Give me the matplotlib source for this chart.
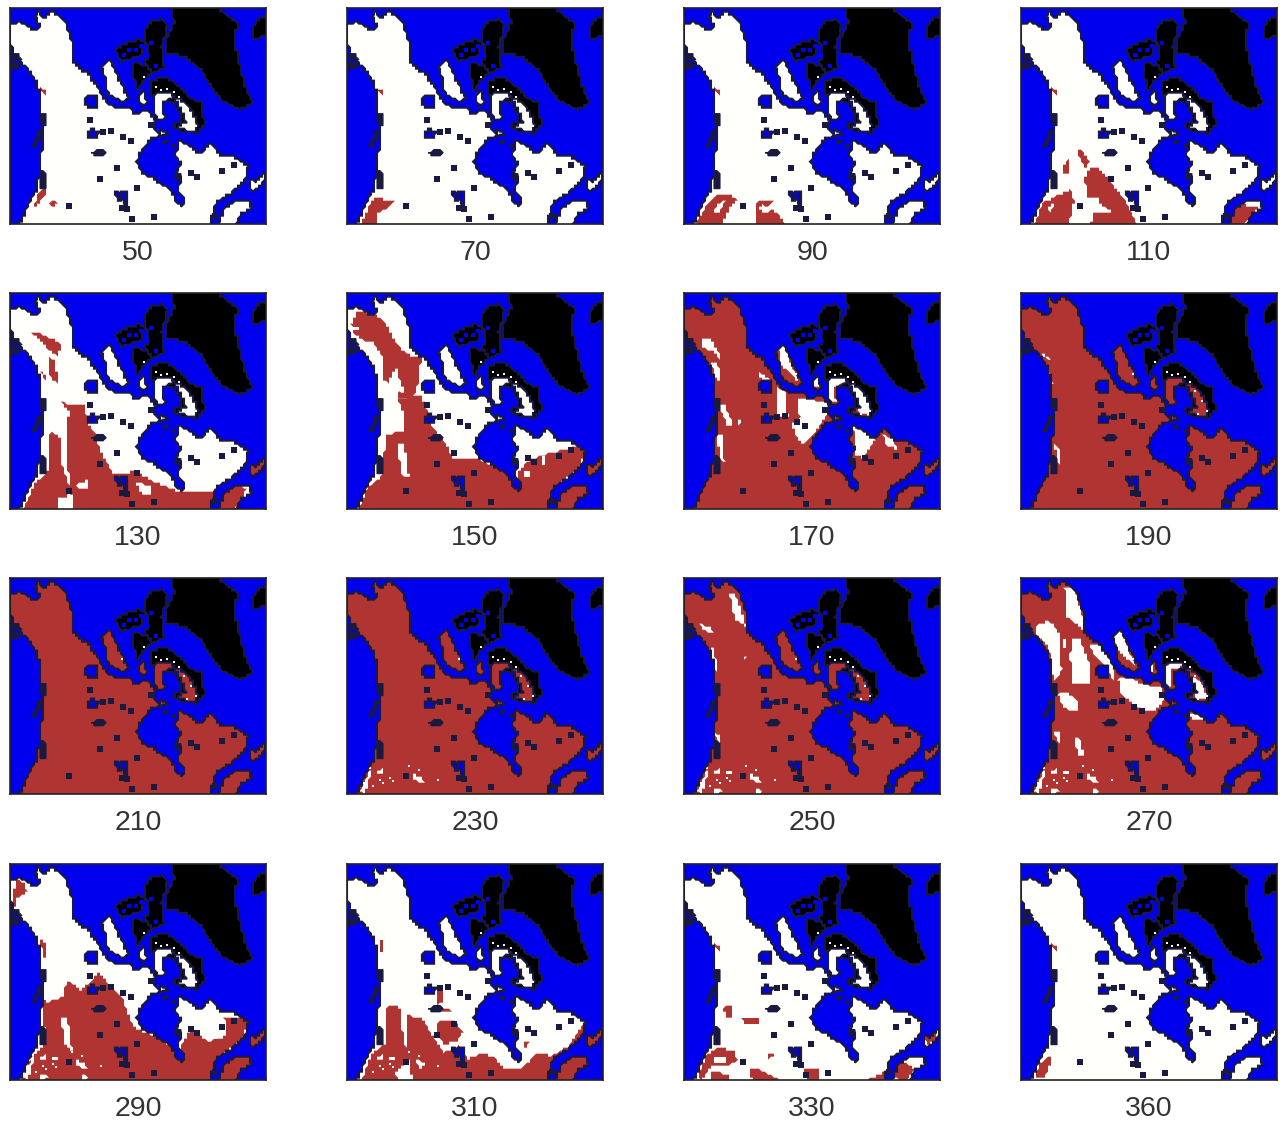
import matplotlib
matplotlib.use("Agg")
import matplotlib.pyplot as plt
import numpy as np
from matplotlib.patches import Polygon, PathPatch
from matplotlib.path import Path

plt.rcParams['font.family'] = ['Liberation Sans', 'DejaVu Sans']

DAYS = [50, 70, 90, 110, 130, 150, 170, 190, 210, 230, 250, 270, 290, 310, 330, 360]

MAINLAND = [(22,70),(35,68),(45,65),(60,75),(75,80),(88,92),(102,90),(108,78),(98,65),(92,50),(105,35),(115,50),(122,58),(140,35),(165,48),(188,68),(195,100),(205,130),(212,190),(230,210),(250,218),(265,240),(282,265),(305,305),(330,320),(350,325),(380,325),(395,345),(415,330),(432,330),(455,362),(450,385),(470,405),(440,420),(412,450),(398,490),(420,525),(445,530),(472,552),(505,575),(515,605),(535,618),(542,598),(522,572),(530,535),(515,515),(530,495),(515,470),(525,420),(560,440),(590,462),(620,432),(650,465),(690,470),(735,500),(722,545),(680,582),(640,605),(625,650),(620,680),(45,680),(75,610),(100,562),(105,525),(112,470),(115,380),(110,310),(100,250),(80,220),(50,185),(25,160),(20,120)]
NEWFOUNDLAND = [(735,540),(752,545),(780,520),(778,555),(745,577)]
MARITIMES = [(660,628),(695,602),(735,600),(745,625),(715,642),(692,680),(640,680)]
BANKS = [(292,205),(315,178),(330,205),(350,250),(375,295),(355,305),(312,285),(305,240)]
MELVILLE = [(405,290),(418,272),(430,310),(412,322)]
BAFFIN_W = [(445,285),(480,278),(505,282),(510,292),(478,308),(482,355),(460,358),(450,330)]
BAFFIN_E = [(510,295),(540,305),(560,325),(582,375),(572,397),(520,385),(545,365),(530,330)]
SOUTHAMPTON = [(465,385),(495,405),(465,412)]
ISLE_N = [(420,110),(432,70),(470,58),(492,80),(472,140),(482,200),(445,222),(425,190),(435,150)]
ISLE_W = [(335,150),(370,130),(405,118),(420,130),(415,165),(385,175),(350,185)]
ISLE_S = [(385,190),(425,195),(440,222),(420,240),(402,272),(388,225)]
ARCTIC_SHELF = [(440,242),(490,232),(530,265),(560,298),(595,310),(600,375),(578,402),(520,390),(505,378),(530,365),(525,330),(505,310),(480,300),(445,285)]
GREENLAND = [(505,20),(640,20),(675,55),(700,70),(692,130),(720,250),(745,310),(710,330),(650,300),(615,250),(590,210),(540,170),(490,160),(488,120),(510,70)]
ELLESMERE_E = [(762,60),(790,45),(790,108),(745,118),(745,85)]
COAST_ISLES = [[(108,340),(125,345),(122,375),(108,372)],[(85,440),(108,385),(114,400),(95,445)],[(108,510),(125,520),(130,565),(112,570)],[(20,168),(45,160),(50,180),(30,185)],[(20,192),(50,190),(48,208),(20,212)],[(480,420),(492,422),(488,435),(476,432)],[(500,428),(512,428),(510,442),(500,442)],[(515,520),(535,525),(530,545),(515,540)]]
BIG_LAKES = [[(240,310),(250,292),(275,292),(282,320),(262,328)],[(250,400),(268,388),(285,400),(280,415),(255,415)],[(335,580),(345,572),(352,605),(340,600)],[(352,575),(370,572),(372,620),(358,615)]]
DARK_LAKES = [[(265,458),(285,450),(303,455),(300,468),(270,468)]]
SMALL_LAKES_X = [258,298,320,358,382,338,288,400,195,355,370,385,450,560,578,655,690,633,440]
SMALL_LAKES_Y = [360,398,395,412,423,506,537,566,618,625,628,658,652,520,533,514,496,650,375]
SEA_HOLES_X = [375,395,410,360,385,430,440,510,455,520]
SEA_HOLES_Y = [150,150,140,165,185,170,130,325,200,310]
SHELF_WHITE_X = [470,490,455,510,540,525,560,575,548,420,355]
SHELF_WHITE_Y = [272,268,262,278,318,292,350,380,388,232,268]

FULL = [(18,20),(790,20),(790,680),(18,680)]
COAST_RED = [(108,265),(125,270),(125,290)]
SW_SPECK_A = [(58,662),(85,605),(92,605),(72,672)]
SW_SPECK_B = [(110,600),(125,598),(125,612),(112,612)]
SW_SPECK_B2 = [(138,600),(165,600),(163,612),(142,612)]
SW_SPECK_C = [(215,612),(240,622),(250,636),(218,634)]
SW_SPECK_D = [(112,655),(140,665),(112,672)]
SW_SPECK_E = [(238,660),(265,665),(238,672)]
SW_DOTS_X = [118,148,125,95,155,205,235,290,70,88]
SW_DOTS_Y = [630,625,640,650,635,590,600,632,640,595]

RED = {
 50: [COAST_RED,[(90,620),(105,575),(122,565),(125,580),(100,620)],[(132,612),(155,600),(158,612),(145,622)]],
 70: [[(108,268),(122,272),(122,288)],[(60,670),(90,610),(110,590),(130,600),(160,605),(140,625),(110,640),(105,680)]],
 90: [COAST_RED,[(55,670),(85,620),(110,590),(150,582),(178,600),(155,625),(130,680)],[(230,610),(250,600),(290,600),(270,625),(300,640),(325,680),(235,680)]],
 110: [COAST_RED,[(55,680),(85,610),(120,590),(165,570),(178,605),(160,680)],[(210,540),(215,510),(250,505),(290,550),(330,600),(368,680),(225,680),(240,630),(215,590)],[(185,455),(200,450),(225,490),(210,505)],[(145,495),(165,475),(160,520),(150,530)],[(630,680),(670,610),(730,625),(700,660),(680,680)]],
 130: [[(85,145),(120,150),(175,180),(160,215),(130,190)],[(135,220),(155,230),(160,295),(140,280)],[(170,350),(195,360),(195,380)],[(108,260),(125,270),(125,290)],[(55,680),(90,600),(130,565),(140,440),(170,460),(175,540),(195,600),(190,680)],[(195,360),(240,360),(255,420),(275,450),(290,500),(330,570),(390,560),(470,600),(520,620),(620,620),(670,600),(730,610),(690,680),(210,680),(190,540),(190,470)],NEWFOUNDLAND],
 150: [[(30,120),(50,80),(100,90),(130,110),(165,175),(200,210),(240,220),(235,290),(215,340),(170,345),(180,300),(165,250),(140,295),(125,280),(130,230),(110,190),(95,170),(60,165),(40,145)],[(170,345),(240,330),(255,370),(270,420),(310,470),(335,520),(405,520),(470,550),(510,575),(530,600),(530,680),(50,680),(80,610),(125,570),(135,450),(185,440),(190,390)],[(530,680),(535,560),(560,530),(610,510),(690,490),(730,490),(720,545),(640,610),(620,680)],NEWFOUNDLAND,MARITIMES],
 170: [FULL], 190: [FULL], 210: [FULL], 230: [FULL], 250: [FULL], 270: [FULL],
 290: [[(50,680),(80,610),(125,560),(130,440),(175,425),(190,380),(215,385),(225,405),(260,380),(285,350),(320,395),(355,425),(385,510),(410,525),(470,550),(510,580),(535,610),(530,570),(560,520),(620,560),(650,540),(660,490),(730,490),(720,545),(640,610),(620,680)],NEWFOUNDLAND,MARITIMES,[(25,120),(40,70),(60,85),(70,110),(40,125),(40,160),(25,150)],[(110,250),(125,260),(130,310),(115,300)],[(115,430),(130,430),(125,520),(115,500)]],
 310: [[(195,480),(240,485),(280,545),(310,590),(355,570),(380,610),(430,590),(465,610),(490,640),(540,640),(590,590),(630,600),(680,575),(725,505),(740,545),(680,590),(640,610),(620,680),(60,680),(95,590),(135,565),(135,455),(175,450),(180,510),(200,600)],[(290,500),(340,495),(365,530),(345,560),(310,565),(285,530)],[(285,395),(305,395),(305,440),(285,450)],[(305,455),(330,465),(300,470)],[(550,560),(565,560),(555,580)],[(115,240),(130,265),(120,290)],NEWFOUNDLAND,MARITIMES],
 330: [COAST_RED,[(60,660),(85,600),(120,575),(170,585),(178,615),(150,630),(100,630),(70,680)],[(135,455),(160,450),(160,490),(145,490)],[(190,490),(240,485),(240,505),(205,505)],[(210,635),(240,640),(320,680),(225,680),(215,650)],[(380,640),(425,635),(425,680),(385,680)],[(550,680),(620,650),(640,680)],[(640,660),(670,615),(710,640),(680,680)],[(740,540),(775,525),(775,555),(745,570)],[(270,595),(285,590),(290,605),(270,608)],[(100,650),(155,655),(155,680),(100,680)]],
 360: [COAST_RED,[(60,665),(75,625),(100,600),(110,610),(100,640),(90,665)]],
}

SW_ALL = [SW_SPECK_A,SW_SPECK_B,SW_SPECK_B2,SW_SPECK_C,SW_SPECK_D,SW_SPECK_E]
WHITE = {
 50: [], 70: [],
 90: [[(115,610),(140,605),(125,640),(110,640)],[(255,615),(285,630),(260,640),(240,625)]],
 110: [[(95,625),(115,610),(110,640)],[(205,600),(250,590),(260,620),(300,640),(240,640)]],
 130: [[(160,640),(200,635),(205,680),(160,680)],[(218,600),(255,585),(250,610),(225,615)],[(395,590),(440,605),(445,630),(410,625)]],
 150: [[(170,480),(190,480),(205,580),(180,570)],[(545,560),(570,560),(565,572),(548,572)],[(600,515),(615,515),(612,542),(600,540)],[(35,122),(52,122),(52,138),(38,138)],[(170,310),(188,310),(185,325)]],
 170: [[(75,165),(100,165),(130,215),(125,230),(110,200),(70,190)],[(100,230),(120,230),(125,290),(110,280)],[(120,360),(140,360),(165,420),(150,425)],[(118,450),(135,450),(140,535),(125,520)],[(180,405),(188,405),(183,425)],[(245,265),(252,270),(280,290),(250,300)],[(300,190),(320,180),(335,225),(365,300),(345,270),(310,240)],[(400,285),(420,280),(420,305),(405,310)],[(300,310),(320,320),(330,400),(300,395)],[(360,340),(400,345),(445,355),(450,385),(410,445),(385,470),(370,480),(340,420),(365,400)],[(445,280),(500,280),(505,290),(465,310),(475,350),(450,355)],[(520,300),(550,300),(580,370),(575,395),(545,385),(530,340)],[(525,425),(560,440),(590,465),(555,520),(535,510)],[(615,450),(650,465),(655,495),(625,480)]],
 190: [[(75,205),(100,215),(105,225),(80,215)],[(100,250),(115,300),(108,295)],[(120,480),(130,490),(135,540),(125,530)]],
 210: [],
 230: [SW_SPECK_A,SW_SPECK_B,SW_SPECK_C],
 250: [[(155,70),(170,70),(205,170),(170,150)],[(65,165),(100,170),(105,190),(70,180)],[(95,215),(108,240),(120,310),(105,290)],[(110,490),(130,495),(130,540),(115,510)],[(195,260),(205,265),(200,275)]] + SW_ALL,
 270: [[(145,50),(180,60),(215,185),(190,170),(155,140),(155,80)],[(60,170),(100,155),(130,180),(140,300),(115,340),(110,290),(100,230),(60,190)],[(170,210),(195,205),(225,290),(225,345),(175,340),(165,260)],[(140,205),(155,205),(155,230),(145,235)],[(225,225),(255,225),(300,290),(295,330),(270,290),(240,260)],[(130,375),(155,365),(185,395),(185,425),(145,415)],[(310,330),(345,320),(380,345),(440,350),(450,385),(420,425),(390,425),(345,395),(320,375)],[(520,430),(555,425),(570,445),(530,450)],[(295,200),(315,180),(330,210),(360,290),(340,270),(310,240)],[(175,500),(195,510),(210,565),(190,555)],[(118,490),(135,490),(135,530)],[(445,285),(500,280),(505,290),(470,300),(470,350),(455,350)],[(530,320),(560,340),(580,385),(540,385)],[(405,280),(418,280),(418,305),(405,305)]] + SW_ALL,
 290: [[(170,490),(190,490),(205,585),(185,570)],[(525,430),(560,450),(590,490),(555,500),(540,490)],[(610,470),(650,465),(670,510),(660,550),(620,550),(610,520)]] + SW_ALL,
 310: [[(165,650),(205,610),(215,680),(170,680)],[(225,610),(255,625),(235,640)],SW_SPECK_B,SW_SPECK_B2],
 330: [[(105,600),(150,600),(140,620),(110,620)]],
 360: [],
}
DOT_PANELS = [230, 250, 270, 290, 310]

LAND_POLYS = [MAINLAND, NEWFOUNDLAND, MARITIMES, BANKS, MELVILLE, BAFFIN_W, BAFFIN_E, SOUTHAMPTON]

COLS = [10, 347, 684, 1021]
ROWS = [8, 293, 578, 864]
W, H, FW, FH = 256, 216, 1285, 1124
C_SEA, C_RED, C_COAST, C_LAND = '#0000EE', '#B03432', '#1A1A40', '#FFFFFB'
CELL = 9.0   # the source map is a coarse raster: edges are drawn on its cell grid


def on_grid(poly):
    pts = np.asarray(poly, float)
    out = []
    for a, b in zip(pts, np.roll(pts, -1, axis=0)):
        n = max(int(np.hypot(*(b - a)) // (CELL * 0.6)), 1)
        for f in np.arange(n) / n:
            p = np.round((a + (b - a) * f) / CELL) * CELL
            if not out or (p != out[-1]).any():
                out.append(p)
    return np.array(out)


fig = plt.figure(figsize=(FW/100, FH/100), dpi=100, facecolor='white')
verts, codes = [], []
for p in LAND_POLYS:
    g = on_grid(p)
    verts += list(g) + [g[0]]
    codes += [Path.MOVETO] + [Path.LINETO]*(len(g)-1) + [Path.CLOSEPOLY]
land_path = Path(np.array(verts), codes)

for i, day in enumerate(DAYS):
    l, t = COLS[i % 4], ROWS[i // 4]
    ax = fig.add_axes([l/FW, 1-(t+H)/FH, W/FW, H/FH])
    ax.set_xlim(18, 786); ax.set_ylim(673, 25)
    ax.set_xticks([]); ax.set_yticks([])
    ax.set_facecolor(C_SEA)
    for s in ax.spines.values():
        s.set_linewidth(1.2); s.set_color('#222222'); s.set_zorder(20)
    for p in [GREENLAND, ELLESMERE_E, ISLE_N, ISLE_W, ISLE_S, ARCTIC_SHELF]:
        ax.add_patch(Polygon(on_grid(p), fc='black', ec=C_COAST, lw=1.3, zorder=1))
    ax.scatter(SEA_HOLES_X, SEA_HOLES_Y, marker='s', s=5, c=C_SEA, lw=0, zorder=1.5)
    land = PathPatch(land_path, fc=C_LAND, ec='none', zorder=2)
    ax.add_patch(land)
    for p in RED[day]:
        q = Polygon(on_grid(p), fc=C_RED, ec='none', zorder=3)
        ax.add_patch(q); q.set_clip_path(land)
    for p in WHITE[day]:
        q = Polygon(on_grid(p), fc=C_LAND, ec='none', zorder=4)
        ax.add_patch(q); q.set_clip_path(land)
    if day in DOT_PANELS:
        d = ax.scatter(SW_DOTS_X, SW_DOTS_Y, marker='s', s=3, c=C_LAND, lw=0, zorder=4.5)
        d.set_clip_path(land)
    ax.add_patch(PathPatch(land_path, fc='none', ec=C_COAST, lw=1.5, zorder=5))
    ax.scatter(SHELF_WHITE_X, SHELF_WHITE_Y, marker='s', s=4, c=C_LAND, lw=0, zorder=5.5)
    for p in COAST_ISLES:
        ax.add_patch(Polygon(on_grid(p), fc=C_COAST, ec=C_COAST, lw=0.8, zorder=6))
    for p in BIG_LAKES:
        ax.add_patch(Polygon(on_grid(p), fc=C_SEA, ec=C_COAST, lw=1.6, zorder=6))
    for p in DARK_LAKES:
        ax.add_patch(Polygon(on_grid(p), fc=C_COAST, ec=C_COAST, lw=1, zorder=6))
    ax.scatter(SMALL_LAKES_X, SMALL_LAKES_Y, marker='s', s=13, c=C_COAST, lw=0, zorder=7)
    ax.text(0.5, -29/H, str(day), transform=ax.transAxes, ha='center', va='center',
            fontsize=20.5, color='#333333')

fig.savefig('out.png', dpi=100)
